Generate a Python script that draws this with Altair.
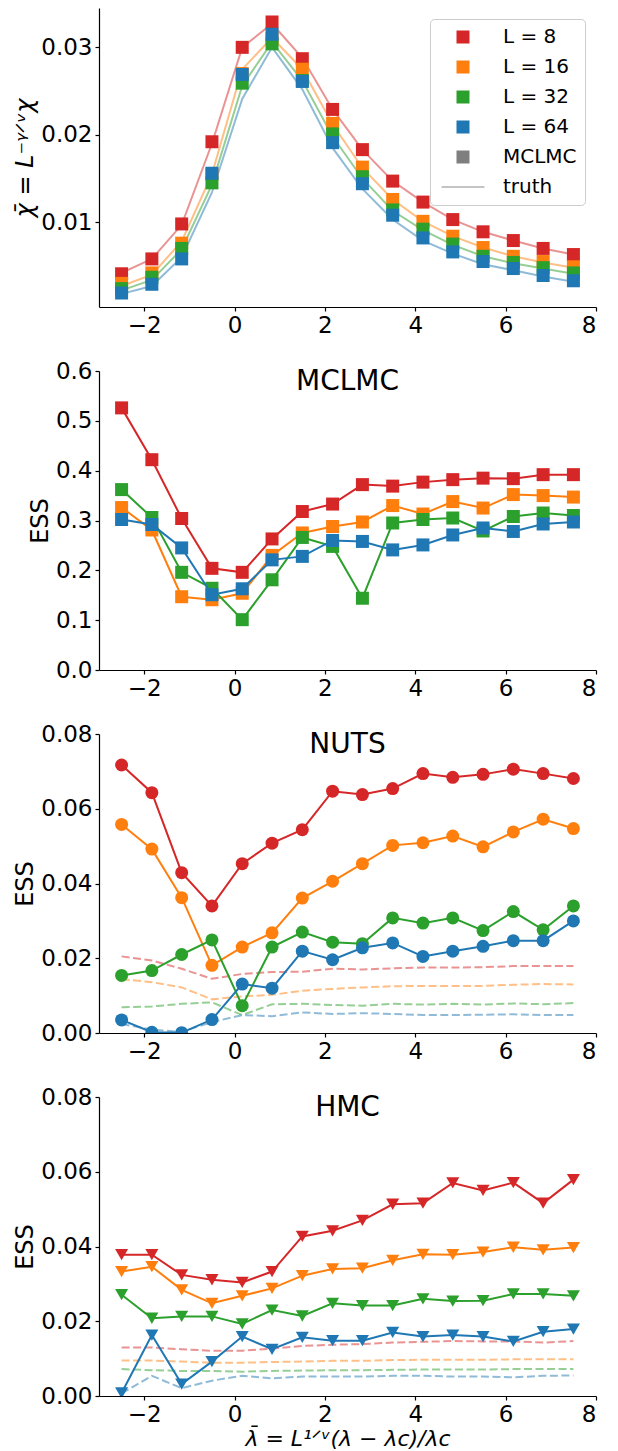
import altair as alt
import pandas as pd

# ---------------- data ----------------
X = [-2.5, -1.83, -1.17, -0.5, 0.17, 0.83, 1.5, 2.17, 2.83, 3.5, 4.17, 4.83, 5.5, 6.17, 6.83, 7.5]
LABELS = ["L = 8", "L = 16", "L = 32", "L = 64"]
COLORS = ["#d62728", "#ff7f0e", "#2ca02c", "#1f77b4"]

# top panel: MCLMC estimate of rescaled susceptibility
chi_8 = [0.0041, 0.0058, 0.0098, 0.0192, 0.0300, 0.0329, 0.0287, 0.0229, 0.0183, 0.0147, 0.0123, 0.0103, 0.0089, 0.0079, 0.0070, 0.0063]
chi_16 = [0.0030, 0.0042, 0.0076, 0.0155, 0.0270, 0.0310, 0.0275, 0.0213, 0.0163, 0.0126, 0.0101, 0.0084, 0.0071, 0.0061, 0.0055, 0.0049]
chi_32 = [0.0024, 0.0037, 0.0070, 0.0145, 0.0259, 0.0304, 0.0262, 0.0201, 0.0152, 0.0114, 0.0092, 0.0075, 0.0061, 0.0054, 0.0048, 0.0042]
chi_64 = [0.0019, 0.0029, 0.0058, 0.0156, 0.0269, 0.0315, 0.0261, 0.0191, 0.0144, 0.0108, 0.0082, 0.0066, 0.0055, 0.0047, 0.0039, 0.0033]
# top panel: truth
truth_8 = [0.0042, 0.0058, 0.0097, 0.0190, 0.0300, 0.0327, 0.0288, 0.0229, 0.0183, 0.0147, 0.0123, 0.0103, 0.0089, 0.0079, 0.0070, 0.0063]
truth_16 = [0.0027, 0.0040, 0.0078, 0.0155, 0.0275, 0.0311, 0.0275, 0.0212, 0.0162, 0.0126, 0.0101, 0.0084, 0.0071, 0.0061, 0.0054, 0.0048]
truth_32 = [0.0022, 0.0034, 0.0069, 0.0143, 0.0256, 0.0306, 0.0262, 0.0198, 0.0150, 0.0113, 0.0091, 0.0074, 0.0061, 0.0053, 0.0047, 0.0041]
truth_64 = [0.0018, 0.0027, 0.0060, 0.0134, 0.0241, 0.0300, 0.0252, 0.0185, 0.0138, 0.0103, 0.0079, 0.0064, 0.0052, 0.0045, 0.0038, 0.0032]

# MCLMC ESS
mclmc_8 = [0.526, 0.422, 0.304, 0.204, 0.196, 0.263, 0.318, 0.333, 0.372, 0.369, 0.377, 0.382, 0.385, 0.384, 0.392, 0.392]
mclmc_16 = [0.326, 0.281, 0.147, 0.141, 0.154, 0.230, 0.275, 0.288, 0.297, 0.330, 0.313, 0.338, 0.325, 0.352, 0.350, 0.347]
mclmc_32 = [0.362, 0.306, 0.196, 0.164, 0.101, 0.181, 0.266, 0.248, 0.144, 0.295, 0.302, 0.305, 0.279, 0.308, 0.315, 0.310]
mclmc_64 = [0.302, 0.292, 0.245, 0.151, 0.163, 0.221, 0.228, 0.260, 0.258, 0.241, 0.251, 0.271, 0.285, 0.278, 0.293, 0.297]

# NUTS ESS
nuts_8 = [0.0717, 0.0643, 0.0429, 0.0340, 0.0453, 0.0508, 0.0544, 0.0647, 0.0638, 0.0654, 0.0694, 0.0684, 0.0692, 0.0706, 0.0694, 0.0681]
nuts_16 = [0.0558, 0.0492, 0.0362, 0.0181, 0.0230, 0.0268, 0.0361, 0.0406, 0.0453, 0.0502, 0.0509, 0.0527, 0.0498, 0.0538, 0.0572, 0.0547]
nuts_32 = [0.0154, 0.0167, 0.0210, 0.0249, 0.0073, 0.0230, 0.0270, 0.0243, 0.0239, 0.0308, 0.0294, 0.0308, 0.0274, 0.0325, 0.0276, 0.0340]
nuts_64 = [0.0035, 0.0002, 0.0001, 0.0036, 0.0131, 0.0120, 0.0219, 0.0196, 0.0228, 0.0241, 0.0205, 0.0219, 0.0232, 0.0247, 0.0247, 0.0300]
nuts_ref_8 = [0.0205, 0.0194, 0.0172, 0.0145, 0.0158, 0.0163, 0.0164, 0.0172, 0.0170, 0.0173, 0.0175, 0.0175, 0.0176, 0.0179, 0.0179, 0.0179]
nuts_ref_16 = [0.0144, 0.0136, 0.0122, 0.0090, 0.0098, 0.0102, 0.0113, 0.0118, 0.0122, 0.0125, 0.0126, 0.0126, 0.0126, 0.0129, 0.0131, 0.0130]
nuts_ref_32 = [0.0069, 0.0071, 0.0078, 0.0082, 0.0048, 0.0077, 0.0078, 0.0075, 0.0073, 0.0078, 0.0076, 0.0078, 0.0076, 0.0079, 0.0077, 0.0080]
nuts_ref_64 = [0.0024, 0.0009, 0.0003, 0.0029, 0.0048, 0.0045, 0.0055, 0.0051, 0.0053, 0.0051, 0.0048, 0.0048, 0.0049, 0.0050, 0.0048, 0.0048]

# HMC ESS
hmc_8 = [0.0378, 0.0378, 0.0324, 0.0311, 0.0304, 0.0333, 0.0427, 0.0442, 0.0470, 0.0513, 0.0516, 0.0570, 0.0550, 0.0571, 0.0516, 0.0579]
hmc_16 = [0.0333, 0.0346, 0.0284, 0.0248, 0.0268, 0.0288, 0.0322, 0.0340, 0.0342, 0.0363, 0.0379, 0.0378, 0.0385, 0.0398, 0.0391, 0.0397]
hmc_32 = [0.0271, 0.0208, 0.0213, 0.0213, 0.0193, 0.0230, 0.0214, 0.0248, 0.0242, 0.0242, 0.0260, 0.0254, 0.0255, 0.0273, 0.0273, 0.0268]
hmc_64 = [0.0008, 0.0163, 0.0032, 0.0092, 0.0159, 0.0125, 0.0157, 0.0148, 0.0148, 0.0170, 0.0159, 0.0163, 0.0159, 0.0146, 0.0172, 0.0179]
hmc_ref_8 = [0.0130, 0.0130, 0.0125, 0.0121, 0.0121, 0.0127, 0.0134, 0.0137, 0.0139, 0.0143, 0.0145, 0.0147, 0.0146, 0.0146, 0.0143, 0.0147]
hmc_ref_16 = [0.0095, 0.0095, 0.0092, 0.0089, 0.0089, 0.0091, 0.0092, 0.0094, 0.0094, 0.0096, 0.0097, 0.0097, 0.0097, 0.0098, 0.0098, 0.0098]
hmc_ref_32 = [0.0072, 0.0069, 0.0067, 0.0067, 0.0065, 0.0067, 0.0068, 0.0069, 0.0069, 0.0070, 0.0071, 0.0071, 0.0071, 0.0072, 0.0072, 0.0072]
hmc_ref_64 = [0.0007, 0.0054, 0.0021, 0.0041, 0.0054, 0.0047, 0.0052, 0.0052, 0.0052, 0.0054, 0.0054, 0.0052, 0.0052, 0.0050, 0.0054, 0.0055]

LEG_DOMAIN = ["L = 8", "L = 16", "L = 32", "L = 64", "MCLMC", "truth"]
LEG_COLORS = ["#d62728", "#ff7f0e", "#2ca02c", "#1f77b4", "#7f7f7f", "#c4c4c4"]
LEG_SHAPES = ["square", "square", "square", "square", "square", "M-3.3,-0.16H3.3V0.16H-3.3Z"]

W, H = 497, 299
FONT = "DejaVu Sans"


def xenc(title=None):
    return alt.X(
        "x:Q",
        scale=alt.Scale(domain=[-3, 8], nice=False, zero=False),
        axis=alt.Axis(values=[-2, 0, 2, 4, 6, 8], format="d", title=title,
                      titleFontStyle="italic", titleFontSize=22, titlePadding=2),
    )


def yenc(domain, values, fmt, title="ESS", italic=False):
    return alt.Y(
        "y:Q",
        scale=alt.Scale(domain=domain, nice=False, zero=False),
        axis=alt.Axis(values=values, format=fmt, title=title,
                      titleFontStyle="italic" if italic else "normal"),
    )


def frame(vals):
    return pd.DataFrame({"x": X, "y": vals})


# ---------------- top panel ----------------
top_layers = []
for vals, col in zip([truth_8, truth_16, truth_32, truth_64], COLORS):
    top_layers.append(
        alt.Chart(frame(vals)).mark_line(strokeWidth=2, opacity=0.5).encode(
            x=xenc(), y=yenc([0.0003, 0.0345], [0.01, 0.02, 0.03], ".2f",
                             "\u03c7\u0304 = L\u207b\u1d5e\u141f\u1d5b\u03c7", True),
            stroke=alt.value(col),
        )
    )

pts_rows = []
for lab, vals in zip(LABELS, [chi_8, chi_16, chi_32, chi_64]):
    for xv, yv in zip(X, vals):
        pts_rows.append({"x": xv, "y": yv, "L": lab})
pts_df = pd.DataFrame(pts_rows)

legend = alt.Legend(
    title=None, orient="top-right", offset=11, padding=8,
    labelFontSize=20, labelFont=FONT, symbolSize=169, symbolOffset=15,
    labelOffset=30, rowPadding=10, strokeColor="#cccccc", fillColor="white",
    cornerRadius=4, symbolStrokeWidth=0, labelColor="black",
)
top_layers.append(
    alt.Chart(pts_df).mark_point(filled=True, size=169, opacity=1, shape="square").encode(
        x=xenc(), y=yenc([0.0003, 0.0345], [0.01, 0.02, 0.03], ".2f",
                         "\u03c7\u0304 = L\u207b\u1d5e\u141f\u1d5b\u03c7", True),
        color=alt.Color("L:N", scale=alt.Scale(domain=LEG_DOMAIN, range=LEG_COLORS), legend=legend),
        shape=alt.Shape("L:N", scale=alt.Scale(domain=LEG_DOMAIN, range=LEG_SHAPES), legend=legend),
    )
)
top = alt.layer(*top_layers).properties(width=W, height=H)


# ---------------- ESS panels ----------------
def ess_panel(title, domain, values, fmt, series, refs, shape, size, xtitle=None, clip=False):
    layers = []
    for vals, col in zip(refs, COLORS):
        layers.append(
            alt.Chart(frame(vals)).mark_line(strokeWidth=2, opacity=0.5, strokeDash=[8, 3.5], clip=clip).encode(
                x=xenc(xtitle), y=yenc(domain, values, fmt), stroke=alt.value(col)
            )
        )
    for vals, col in zip(series, COLORS):
        base = alt.Chart(frame(vals)).encode(x=xenc(xtitle), y=yenc(domain, values, fmt))
        layers.append(base.mark_line(strokeWidth=2, color=col, clip=clip))
        layers.append(base.mark_point(filled=True, size=size, shape=shape, color=col, opacity=1, clip=clip))
    return alt.layer(*layers).properties(
        width=W, height=H,
        title=alt.TitleParams(title, fontSize=28, fontWeight="normal", anchor="middle",
                              frame="group", baseline="top", offset=-36, color="black", font=FONT),
    )


mclmc = ess_panel("MCLMC", [0, 0.6], [0, 0.1, 0.2, 0.3, 0.4, 0.5, 0.6], ".1f",
                  [mclmc_8, mclmc_16, mclmc_32, mclmc_64], [], "square", 169)
nuts = ess_panel("NUTS", [0, 0.08], [0, 0.02, 0.04, 0.06, 0.08], ".2f",
                 [nuts_8, nuts_16, nuts_32, nuts_64],
                 [nuts_ref_8, nuts_ref_16, nuts_ref_32, nuts_ref_64], "circle", 169, clip=True)
hmc = ess_panel("HMC", [0, 0.08], [0, 0.02, 0.04, 0.06, 0.08], ".2f",
                [hmc_8, hmc_16, hmc_32, hmc_64],
                [hmc_ref_8, hmc_ref_16, hmc_ref_32, hmc_ref_64], "triangle-down", 170,
                xtitle="\u03bb\u0304 = L\u00b9\u141f\u1d5b(\u03bb \u2212 \u03bbc)/\u03bbc", clip=True)

chart = alt.VConcatChart(vconcat=[top, mclmc, nuts, hmc], spacing=64, bounds="flush").properties(
    padding={"left": 5, "top": 0, "right": 5, "bottom": 2}
).resolve_legend(color="independent", shape="independent").configure(
    font=FONT
).configure_view(stroke=None).configure_axis(
    labelFont=FONT, titleFont=FONT, labelFontSize=23, titleFontSize=24,
    labelColor="black", titleColor="black", titleFontWeight="normal",
    domainColor="black", tickColor="black", domainWidth=1.2, tickWidth=1.2,
    tickSize=4, labelPadding=3, grid=False, titlePadding=3,
)

chart.save("out.html", embed_options={"renderer": "svg", "actions": False})
